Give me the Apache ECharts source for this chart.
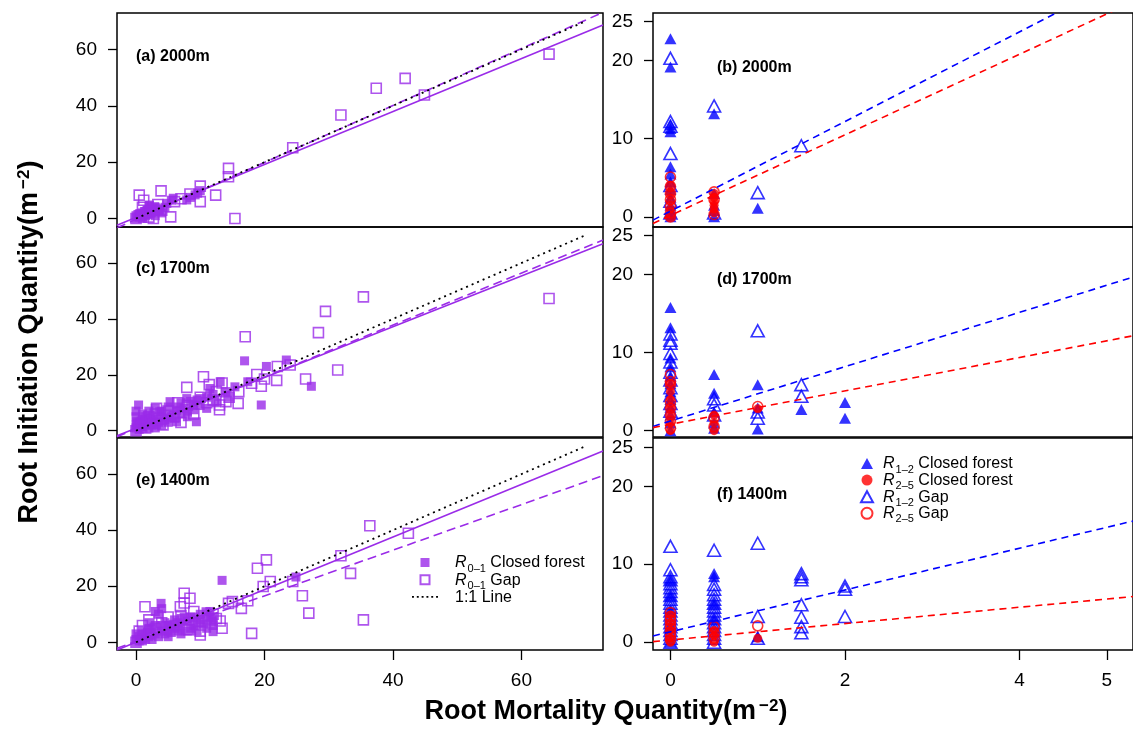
<!DOCTYPE html>
<html><head><meta charset="utf-8">
<script src="https://cdn.jsdelivr.net/npm/echarts@6/dist/echarts.min.js"></script>
<style>html,body{margin:0;padding:0;background:#fff}#c{width:1133px;height:731px}</style>
</head><body><div id="c"></div>
<script>
// ---------------- DATA ----------------
// Left panels: R0-1 root mortality (x) vs root initiation (y)
const aClosed = [[0,0],[0,1],[0.5,0.5],[0.5,1.5],[1,0],[1,1],[1,2],[1.5,1],[1.5,2.5],[2,1.5],[2,3],[2,4.5],[2.5,2],[2.5,3.5],[3,1],[3,2.5],[3,4],[3.5,3],[4,2],[4.8,5.4],[4.5,4],[5.8,7.2],[5.5,6.5],[7.9,6.6],[8.5,7.5],[9.2,8.4],[9.6,9],[10,9.9],[1.1,0.6],[0.6,1.8],[1.7,3],[2.1,4.8],[2.9,4.2],[3.7,3]];
const aGap = [[64.3,58.3],[41.9,49.7],[37.4,46.2],[44.9,43.8],[31.9,36.7],[24.4,25.1],[14.4,17.8],[14.4,14.8],[15.4,0],[12.4,8.3],[10,11.5],[10,6],[8.4,8.7],[5.4,0.6],[3.9,9.8],[0.5,8.3],[2.7,0],[3.4,5],[1,4],[0,0],[0.5,1],[1.5,2],[2,0.5],[7,7],[6,6],[4,3],[1.2,6.5],[2,2.5]];
const cClosed = [[23.4,25.3],[20.3,23],[16.9,25],[27.3,15.9],[19.5,9.2],[17.4,17.5],[15.4,15.7],[13.1,17.5],[11.5,15.1],[10,11.5],[8.9,9.2],[9.4,3.2],[7.9,11.5],[6.3,7.3],[5.3,10.4],[3.7,6.8],[2.2,4.4],[0.4,9.2],[0.1,3.2],[1.1,0.9],[3.2,2.1],[6.3,3.2],[0,0],[0,1],[0,2],[0,5],[0,7],[0.5,0.5],[0.5,3],[1,1.5],[1,4],[1,6],[1.5,2],[1.5,5],[2,1],[2,3],[2,7],[2.5,2],[2.5,5],[3,1],[3,4],[3,8],[3.5,3],[4,2],[4,5],[4,7],[4.5,4],[5,3],[5,6],[5,8.5],[5.5,5],[6,4.5],[6.5,8.5],[7,6],[7,10],[7.5,8],[8,5],[8,7],[8.5,10.5],[9,7.5],[9.5,11],[10,9],[11,12],[11,8],[12,13],[12.5,10],[14,14],[14.5,12]];
const cGap = [[64.3,47.3],[35.4,47.9],[29.5,42.7],[28.4,35.1],[17,33.6],[31.4,21.7],[26.4,18.5],[24,23.5],[21.9,18],[19.5,15.9],[18.8,20.1],[15.9,9.8],[14,10.4],[13,9.2],[13.4,17.1],[10.5,19.3],[7.9,15.5],[11.4,16.5],[3.2,8],[4.2,2.1],[0,0],[0.5,2],[1,3],[1.5,1],[2,5],[2.5,3],[3,6],[4,4],[5,7],[6,5],[6.5,10],[7,3],[8,9],[9,6],[10,12],[11,10],[12,11],[12.5,14],[13,7.5],[14.5,12],[16,14],[18,17],[20,18.5],[22,23]];
const eClosed = [[13.4,22.1],[24.9,23.3],[3.9,13.9],[10.9,10.9],[12,3.8],[12,6],[11,8],[9,9],[8,7.5],[7,6],[6,8],[5,4],[4,6],[3.5,10],[3,3],[2.5,5],[2,2],[2,7],[1.5,1],[1,4],[1,0.5],[0.5,2],[0,0],[0,1],[0,3],[4.5,3],[5.5,5.5],[6.5,4],[7.5,9],[8.5,5],[9.5,7],[10,10],[11.5,11],[12,9],[3,11],[4,12],[0.5,0.5],[1,1.5],[1.5,3],[2,4.5],[2.5,1],[3,6],[3.5,2],[4,4],[4.5,7],[5,2],[5,6],[5.5,3.5],[6,5],[6.5,7],[7,3],[7,8.5],[8,4],[8.5,9],[9,6],[9.5,4],[10,8],[10.5,6.5],[11,5],[11.5,9],[12,7.5]];
const eGap = [[36.4,41.6],[42.4,38.9],[31.9,30.9],[33.4,24.6],[35.4,8],[26.9,10.4],[25.9,16.6],[24.4,21.7],[20.3,29.4],[18.9,26.4],[20.9,21.7],[19.8,19.9],[18,3.2],[17.4,14.8],[16.4,12.1],[14.4,13.9],[13.4,5],[13.1,7.6],[8.4,15.7],[7.5,17.5],[6.9,12.7],[1.4,12.7],[10,2.6],[10,4],[12.5,8.5],[9,11],[7,9.5],[6,6],[5,9],[4,7],[3,5],[2,8],[2,3],[1,6],[1,2],[0,0],[0.5,4],[8,4.5],[7.5,14],[15,14.5],[12,10]];
// fitted lines [intercept, slope]
const aFitClosed = [0.42, 0.938], aFitGap = [-0.3, 1.01];
const cFitClosed = [0.89, 0.908], cFitGap = [0.6, 0.93];
const eFitClosed = [0.03, 0.939], eFitGap = [0.3, 0.814];
const oneToOneRange = [0, 70];

// Right panels: R1-2 and R2-5
const b12Closed = [[0,22.8],[0,19.2],[0,11.8],[0,11.3],[0,10.9],[0,6.4],[0,5.5],[0,4.5],[0,3.5],[0,2.5],[0,1.5],[0,1],[0,0.5],[0,0],[0.5,13.2],[0.5,3],[0.5,1.5],[0.5,0.8],[0.5,0],[1,1.1]];
const b25Closed = [[0,4],[0,3],[0,2],[0,1],[0,0],[0.5,3],[0.5,2.5],[0.5,2],[0.5,1.5],[0.5,1],[0.5,0.5]];
const b12Gap = [[0,20.3],[0,12.2],[0,11.6],[0,8.1],[0,4],[0,2],[0,0.5],[0.5,14.2],[0.5,0.5],[1,3.1],[1.5,9.1]];
const b25Gap = [[0,5.1],[0,3.9],[0,3],[0,2.2],[0,1.3],[0,0.5],[0,0],[0.5,3.2],[0.5,2.2],[0.5,0.3]];
const d12Closed = [[0,15.8],[0,13.2],[0,9.3],[0,8.2],[0,7],[0,6],[0,5],[0,4],[0,3],[0,2],[0,1],[0,0],[0.5,7.2],[0.5,4.8],[0.5,2.4],[0.5,1],[0.5,0.3],[1,5.9],[1,2.9],[1,0.2],[1.5,2.7],[2,3.6],[2,1.6]];
const d25Closed = [[0,6],[0,5],[0,4],[0,3],[0,2],[0,1],[0,0],[0.5,2],[0.5,1],[0.5,0],[1,2.8]];
const d12Gap = [[0,12.4],[0,11.6],[0,11.2],[0,9.9],[0,8.8],[0,7.5],[0,6.5],[0,5.5],[0,4.5],[0,3.5],[0,2.5],[0.5,4.1],[0.5,3.3],[0.5,2],[1,12.8],[1,2.4],[1,1.6],[1.5,5.9],[1.5,4.4]];
const d25Gap = [[0,7.2],[0,6.3],[0,5.9],[0,3.7],[0,2.9],[0,2],[0,1.2],[0,0.3],[0.5,1.7],[0.5,0.5],[1,3.1]];
const f12Closed = [[0,8],[0,6],[0,4],[0,2],[0,0],[0.5,8.8],[0.5,8.4],[0.5,5],[0.5,3],[1,0.7]];
const f25Closed = [[0,3.5],[0,2.5],[0,1.5],[0,0.5],[0,0],[0.5,1.5],[0.5,0.8],[0.5,0],[1,0.5]];
const f12Gap = [[0,12.3],[0,9.3],[0,8.4],[0,8],[0,7.5],[0,7],[0,6.5],[0,6],[0,5.5],[0,5],[0,4.5],[0,4],[0,3.5],[0,3],[0,2.5],[0,2],[0,1.5],[0,1],[0,0.5],[0,0],[0.5,11.8],[0.5,7.4],[0.5,6.8],[0.5,6.1],[0.5,5.5],[0.5,5],[0.5,4.5],[0.5,4],[0.5,3.5],[0.5,3],[0.5,2.5],[0.5,2],[0.5,1.5],[0.5,1],[0.5,0.5],[0.5,0],[1,12.7],[1,3.3],[1,0.5],[1.5,8.8],[1.5,8.4],[1.5,8],[1.5,4.8],[1.5,3.2],[1.5,2],[1.5,1.2],[2,7.2],[2,6.8],[2,3.3]];
const f25Gap = [[0,3.8],[0,3.3],[0,2.8],[0,2.3],[0,1.8],[0,1.3],[0,0.8],[0,0.3],[0.5,2],[0.5,1.2],[0.5,0.5],[1,2.1]];
const bFit12 = [0.73, 5.74], bFit25 = [0.18, 5.16];
const dFit12 = [1.24, 3.48], dFit25 = [0.82, 2.14];
const fFit12 = [1.34, 2.68], fFit25 = [0.29, 1.05];

const leftTicks = [0, 20, 40, 60];
const rightXTicks = [0, 2, 4, 5];
const rightYTicks = [0, 10, 20, 25];
const panelLabels = ['(a) 2000m', '(c) 1700m', '(e) 1400m', '(b) 2000m', '(d) 1700m', '(f) 1400m'];

// ---------------- STYLE / LAYOUT ----------------
const PURPLE = '#9A2BE8', BLUE = '#0000FF', RED = '#FF0000';
const FONT = 'Liberation Sans';
const grids = [
  {left:117, top:13, width:486, height:214},
  {left:117, top:227, width:486, height:210},
  {left:117, top:438, width:486, height:212},
  {left:653, top:13, width:495, height:214},
  {left:653, top:227, width:495, height:210},
  {left:653, top:438, width:495, height:212}
];
const xRanges = [[-2.96,72.7],[-2.96,72.7],[-2.96,72.7],[-0.2,5.3],[-0.2,5.3],[-0.2,5.3]];
const yRanges = [[-3.0,72.9],[-2.25,72.9],[-2.75,72.9],[-1.3,26.1],[-0.81,26.1],[-1.0,26.2]];

const chart = echarts.init(document.getElementById('c'), null, {renderer:'canvas'});

const xAxis = grids.map((g,i)=>{
  const bottom = (i===2 || i===5);
  const ticks = i<3 ? leftTicks : rightXTicks;
  return {
    type:'value', gridIndex:i, min:xRanges[i][0], max:xRanges[i][1],
    show: bottom, position:'bottom',
    axisLine:{show:false, onZero:false}, splitLine:{show:false},
    axisTick:{show:true, inside:false, length:10, lineStyle:{color:'#000', width:1.3}, customValues: ticks},
    axisLabel:{show:true, margin:21, fontSize:19, fontFamily:FONT, color:'#000', customValues: ticks}
  };
});
const yAxis = grids.map((g,i)=>{
  const ticks = i<3 ? leftTicks : rightYTicks;
  return {
    type:'value', gridIndex:i, min:yRanges[i][0], max:yRanges[i][1], position:'left',
    axisLine:{show:false, onZero:false}, splitLine:{show:false},
    axisTick:{show:true, inside:false, length:9, lineStyle:{color:'#000', width:1.3}, customValues: ticks},
    axisLabel:{show:true, margin:20, fontSize:19, fontFamily:FONT, color:'#000', customValues: ticks}
  };
});

function fitLine(coef, i){
  const x0 = xRanges[i][0], x1 = xRanges[i][1];
  return [[x0, coef[0]+coef[1]*x0],[x1, coef[0]+coef[1]*x1]];
}
function scatter(name, data, i, symbol, size, color, open, z){
  return {
    name, type:'scatter', xAxisIndex:i, yAxisIndex:i, data, symbol, symbolSize:size, z: z||2,
    itemStyle: open ? {color:'rgba(255,255,255,0)', borderColor:color, borderWidth:1.6}
                    : {color:color, borderWidth:0},
    emphasis:{disabled:true}, silent:true
  };
}
function line(name, data, i, color, type, width, z){
  return {
    name, type:'line', xAxisIndex:i, yAxisIndex:i, data, symbol:'none', showSymbol:false,
    clip:true, z: z||5, silent:true, itemStyle:{color},
    lineStyle:{color, type, width: width||1.6}
  };
}

const series = [];
const leftSets = [
  [aClosed, aGap, aFitClosed, aFitGap],
  [cClosed, cGap, cFitClosed, cFitGap],
  [eClosed, eGap, eFitClosed, eFitGap]
];
const sfx = ['a','c','e'];
leftSets.forEach((s,i)=>{
  const last = i===2;
  series.push(scatter(last ? 'R01C' : 'R01C_'+sfx[i], s[0], i, 'rect', 9, PURPLE, false, 2));
  series.push(scatter(last ? 'R01G' : 'R01G_'+sfx[i], s[1], i, 'rect', 10, PURPLE, true, 3));
  series.push(line('fitC_'+sfx[i], fitLine(s[2], i), i, PURPLE, 'solid', 1.6, 5));
  series.push(line('fitG_'+sfx[i], fitLine(s[3], i), i, PURPLE, [9,5], 1.6, 5));
  series.push(line(last ? 'ONE' : 'ONE_'+sfx[i], [[oneToOneRange[0],oneToOneRange[0]],[oneToOneRange[1],oneToOneRange[1]]], i, '#000', [2,4], 1.8, 6));
});
const rightSets = [
  [b12Closed, b25Closed, b12Gap, b25Gap, bFit12, bFit25],
  [d12Closed, d25Closed, d12Gap, d25Gap, dFit12, dFit25],
  [f12Closed, f25Closed, f12Gap, f25Gap, fFit12, fFit25]
];
const rs = ['b','d','f'];
rightSets.forEach((s,k)=>{
  const i = k+3, last = k===2;
  series.push(scatter(last ? 'R12C' : 'R12C_'+rs[k], s[0], i, 'triangle', [12,11], BLUE, false, 2));
  series.push(scatter(last ? 'R12G' : 'R12G_'+rs[k], s[2], i, 'triangle', [13,12], BLUE, true, 3));
  series.push(scatter(last ? 'R25C' : 'R25C_'+rs[k], s[1], i, 'circle', 9, RED, false, 4));
  series.push(scatter(last ? 'R25G' : 'R25G_'+rs[k], s[3], i, 'circle', 10, RED, true, 4));
  series.push(line('fit12_'+rs[k], fitLine(s[4], i), i, BLUE, [7,5], 1.6, 5));
  series.push(line('fit25_'+rs[k], fitLine(s[5], i), i, RED, [7,5], 1.6, 5));
});

const legendRich = {
  i:{fontStyle:'italic', fontSize:16, fontFamily:FONT, color:'#000', lineHeight:15, verticalAlign:'top'},
  t:{fontSize:16, fontFamily:FONT, color:'#000', lineHeight:15, verticalAlign:'top'},
  s:{fontSize:11, fontFamily:FONT, color:'#000', lineHeight:11, verticalAlign:'top', padding:[8,0,0,1]}
};
const legendNames = {
  R01C:'{i|R}{s|0–1}{t| Closed forest}', R01G:'{i|R}{s|0–1}{t| Gap}', ONE:'{t|1:1 Line}',
  R12C:'{i|R}{s|1–2}{t| Closed forest}', R25C:'{i|R}{s|2–5}{t| Closed forest}',
  R12G:'{i|R}{s|1–2}{t| Gap}', R25G:'{i|R}{s|2–5}{t| Gap}'
};
const SQ = 'path://M0,0h10v10h-10z';
const DOTS = 'path://M0,0h2v2h-2z M5,0h2v2h-2z M10,0h2v2h-2z M15,0h2v2h-2z M20,0h2v2h-2z M25,0h2v2h-2z';

const graphic = [];
const labelOffsets = [36, 34, 35, 47, 45, 49];
grids.forEach((g,i)=>{
  graphic.push({type:'text', left: g.left + (i<3 ? 19 : 64), top: g.top + labelOffsets[i],
    style:{text: panelLabels[i], font:'bold 16px "Liberation Sans"', fill:'#000'}, silent:true});
});
const supRich = {sup:{font:'bold 17px "Liberation Sans"', fill:'#000', verticalAlign:'top', padding:[0,0,12,3]}};
graphic.push({type:'text', x:606, y:712, silent:true,
  style:{text:'Root Mortality Quantity(m{sup|−2})', align:'center', verticalAlign:'middle',
    font:'bold 27px "Liberation Sans"', fill:'#000', rich:supRich}});
graphic.push({type:'text', x:30, y:342, rotation:Math.PI/2, silent:true,
  style:{text:'Root Initiation Quantity(m{sup|−2})', align:'center', verticalAlign:'middle',
    font:'bold 27px "Liberation Sans"', fill:'#000', rich:supRich}});

const option = {
  animation:false,
  backgroundColor:'#fff',
  grid: grids.map(g=>Object.assign({show:true, borderColor:'#000', borderWidth:1.5, backgroundColor:'transparent', containLabel:false}, g)),
  xAxis, yAxis, series, graphic,
  legend:[
    {left:412, top:555, padding:0, orient:'vertical', itemWidth:26, itemHeight:9, itemGap:-1.8, selectedMode:false, symbolKeepAspect:true,
     data:[{name:'R01C', icon:SQ},{name:'R01G', icon:SQ},{name:'ONE', icon:DOTS}], formatter:n=>legendNames[n],
     textStyle:{fontSize:16, fontFamily:FONT, color:'#000', padding:[0,0,0,12], rich:legendRich}},
    {left:860, top:456, padding:0, orient:'vertical', itemWidth:12, itemHeight:11, itemGap:-2.4, selectedMode:false,
     data:['R12C','R25C','R12G','R25G'], formatter:n=>legendNames[n],
     textStyle:{fontSize:16, fontFamily:FONT, color:'#000', padding:[0,0,0,5], rich:legendRich}}
  ]
};
chart.setOption(option);
</script></body></html>
